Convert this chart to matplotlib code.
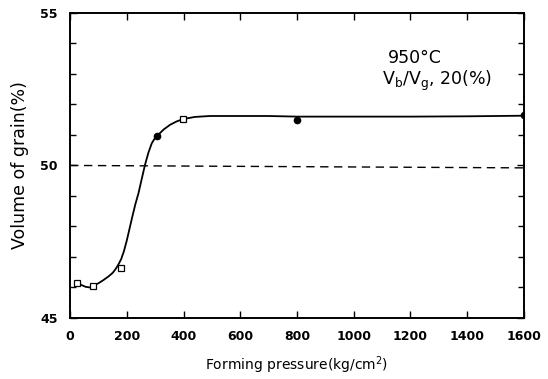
import matplotlib.pyplot as plt
from matplotlib.ticker import MultipleLocator

# measured points
open_x = [24, 80, 179, 399]
open_y = [46.16, 46.05, 46.65, 51.52]
filled_x = [308, 800, 1600]
filled_y = [50.98, 51.49, 51.66]

# fitted curve
curve_x = [24, 40, 55, 70, 80, 100, 117, 135, 150, 160, 170, 180, 190, 200, 210,
           220, 230, 241, 253, 264, 276, 288, 298, 308, 330, 352, 375, 399, 440,
           493, 600, 700, 800, 1000, 1200, 1400, 1600]
curve_y = [46.16, 46.08, 46.02, 46.0, 46.05, 46.14, 46.24, 46.36, 46.48, 46.6,
           46.75, 46.93, 47.2, 47.55, 47.95, 48.35, 48.73, 49.09, 49.58, 50.02,
           50.42, 50.73, 50.88, 50.98, 51.18, 51.33, 51.44, 51.52, 51.59,
           51.62, 51.62, 51.62, 51.6, 51.6, 51.6, 51.61, 51.63]

ref_x = [0, 1600]
ref_y = [50.0, 49.92]

plt.rcParams.update({"font.family": "DejaVu Sans", "font.size": 9})

fig = plt.figure(figsize=(5.48, 3.79), dpi=100)
ax = fig.add_axes([0.128, 0.161, 0.828, 0.805])

ax.plot(curve_x, curve_y, color="black", lw=1.3, zorder=2)
ax.plot(ref_x, ref_y, color="black", lw=1.0, ls=(0, (6, 4)), zorder=1)
ax.plot(open_x, open_y, ls="none", marker="s", ms=4, mfc="white",
        mec="black", mew=0.9, zorder=3)
ax.plot(filled_x, filled_y, ls="none", marker="o", ms=4.5, color="black",
        zorder=3)

ax.set_xlim(0, 1600)
ax.set_ylim(45, 55)
ax.xaxis.set_major_locator(MultipleLocator(200))
ax.yaxis.set_major_locator(MultipleLocator(5))
ax.yaxis.set_minor_locator(MultipleLocator(1))
ax.tick_params(which="both", direction="in", top=True, right=True, width=1.0)
ax.tick_params(which="major", length=5, pad=9)
ax.tick_params(which="minor", length=4)
for lab in ax.get_xticklabels() + ax.get_yticklabels():
    lab.set_fontweight("bold")
for sp in ax.spines.values():
    sp.set_linewidth(1.4)

ax.set_xlabel("Forming pressure(kg/cm$^2$)", fontsize=10, labelpad=8)
ax.set_ylabel("Volume of grain(%)", fontsize=12.5, labelpad=8)

ax.text(1121, 53.36, "950°C", fontsize=12.5, va="baseline")
ax.text(1100, 52.64, "V$_\\mathregular{b}$/V$_\\mathregular{g}$, 20(%)",
        fontsize=12.5, va="baseline")

fig.savefig("out.png", dpi=100)
